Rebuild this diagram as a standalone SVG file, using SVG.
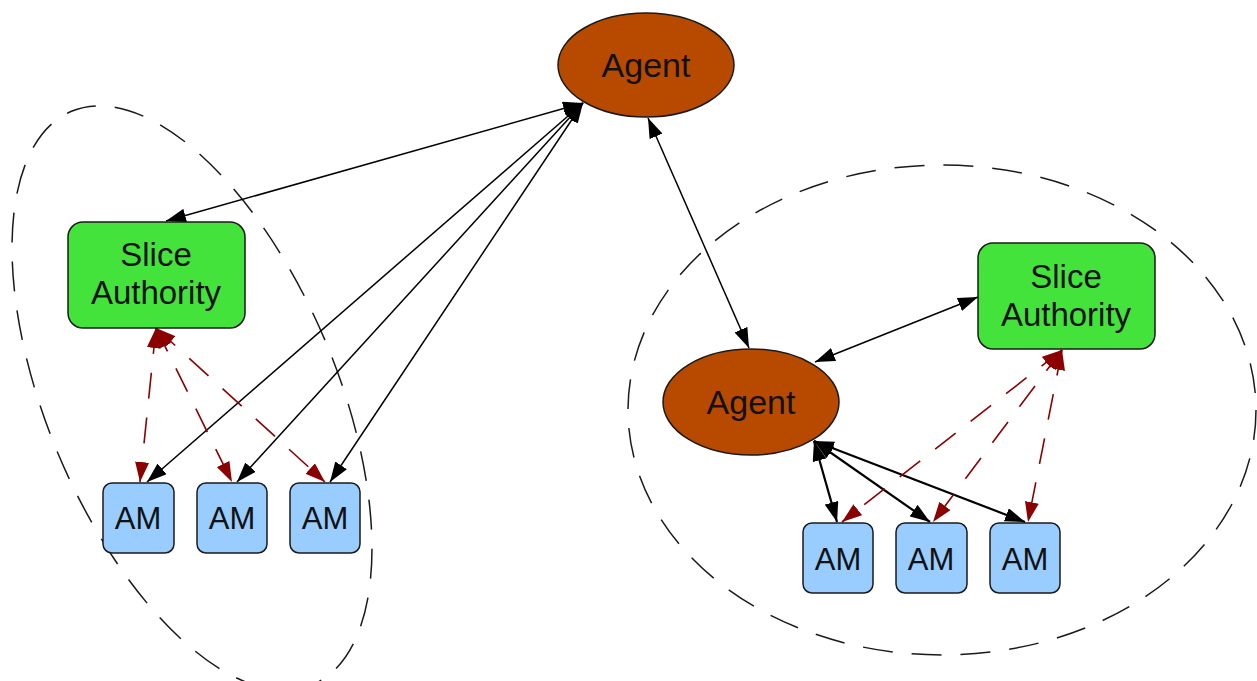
<svg xmlns="http://www.w3.org/2000/svg" width="1257" height="681" viewBox="0 0 1257 681">
<style>
.cl{fill:none;stroke:#1a1a1a;stroke-width:1.5;stroke-dasharray:30 19}
.e{fill:none;stroke:#000;stroke-width:1.5}
.et{fill:none;stroke:#000;stroke-width:2.2}
.r{fill:none;stroke:#8B0000;stroke-width:1.6;stroke-dasharray:26 19}
.agent{fill:#B84A00;stroke:#1a1a1a;stroke-width:1.5}
.sa{fill:#44E33C;stroke:#1a1a1a;stroke-width:1.5}
.am{fill:#99CCFF;stroke:#1a1a1a;stroke-width:1.5}
text{font-family:"Liberation Sans",Arial,sans-serif;font-size:31px;fill:#111;text-anchor:middle}
.big{font-size:34px}
.mid{font-size:33px}
</style>
<defs>
<marker id="ab" viewBox="0 0 20 14" refX="20" refY="7" markerWidth="20" markerHeight="14" markerUnits="userSpaceOnUse" orient="auto-start-reverse"><path d="M0,0 L20,7 L0,14 z" fill="#000"/></marker>
<marker id="ar" viewBox="0 0 20 14" refX="20" refY="7" markerWidth="20" markerHeight="14" markerUnits="userSpaceOnUse" orient="auto-start-reverse"><path d="M0,0 L20,7 L0,14 z" fill="#8B0000"/></marker>
</defs>
<rect width="1257" height="681" fill="#fff"/>
<g id="clusters">
<ellipse class="cl" cx="192" cy="398" rx="311" ry="145" transform="rotate(67.2 192 398)"/>
<ellipse class="cl" cx="942" cy="410" rx="314" ry="245"/>
</g>
<g id="connectors">
<line class="e" x1="583" y1="103" x2="166" y2="221" marker-start="url(#ab)" marker-end="url(#ab)"/>
<line class="e" x1="583" y1="103" x2="147" y2="482" marker-start="url(#ab)" marker-end="url(#ab)"/>
<line class="e" x1="583" y1="103" x2="237" y2="482" marker-start="url(#ab)" marker-end="url(#ab)"/>
<line class="e" x1="583" y1="103" x2="330" y2="482" marker-start="url(#ab)" marker-end="url(#ab)"/>
<line class="r" x1="156" y1="328" x2="140" y2="482" marker-start="url(#ar)" marker-end="url(#ar)"/>
<line class="r" x1="156" y1="328" x2="232" y2="482" marker-start="url(#ar)" marker-end="url(#ar)"/>
<line class="r" x1="156" y1="328" x2="325" y2="482" marker-start="url(#ar)" marker-end="url(#ar)"/>
<line class="e" x1="648" y1="118" x2="749" y2="348" marker-start="url(#ab)" marker-end="url(#ab)"/>
<line class="e" x1="815" y1="362" x2="978" y2="297" marker-start="url(#ab)" marker-end="url(#ab)"/>
<line class="et" x1="814" y1="441" x2="837" y2="522" marker-start="url(#ab)" marker-end="url(#ab)"/>
<line class="et" x1="814" y1="441" x2="930" y2="522" marker-start="url(#ab)" marker-end="url(#ab)"/>
<line class="et" x1="814" y1="441" x2="1025" y2="522" marker-start="url(#ab)" marker-end="url(#ab)"/>
<line class="r" x1="1062" y1="350" x2="842" y2="522" marker-start="url(#ar)" marker-end="url(#ar)"/>
<line class="r" x1="1062" y1="350" x2="933" y2="522" marker-start="url(#ar)" marker-end="url(#ar)"/>
<line class="r" x1="1062" y1="350" x2="1028" y2="522" marker-start="url(#ar)" marker-end="url(#ar)"/>
</g>
<g id="agent_top"><ellipse class="agent" cx="646" cy="65" rx="88" ry="52"/><text class="big" x="646" y="77">Agent</text></g>
<g id="sa_left"><rect class="sa" x="68" y="222" width="177" height="106" rx="15"/><text class="mid" x="156" y="266">Slice</text><text class="mid" x="156" y="304">Authority</text></g>
<g id="am_l1"><rect class="am" x="103" y="483" width="71" height="70" rx="9"/><text x="138" y="529">AM</text></g>
<g id="am_l2"><rect class="am" x="197" y="483" width="70" height="70" rx="9"/><text x="232" y="529">AM</text></g>
<g id="am_l3"><rect class="am" x="290" y="483" width="70" height="70" rx="9"/><text x="325" y="529">AM</text></g>
<g id="agent_right"><ellipse class="agent" cx="751" cy="402" rx="88" ry="53"/><text class="big" x="751" y="414">Agent</text></g>
<g id="sa_right"><rect class="sa" x="978" y="243" width="177" height="106" rx="15"/><text class="mid" x="1066" y="288">Slice</text><text class="mid" x="1066" y="326">Authority</text></g>
<g id="am_r1"><rect class="am" x="803" y="523" width="70" height="70" rx="9"/><text x="838" y="570">AM</text></g>
<g id="am_r2"><rect class="am" x="896" y="523" width="71" height="70" rx="9"/><text x="931" y="570">AM</text></g>
<g id="am_r3"><rect class="am" x="990" y="523" width="70" height="70" rx="9"/><text x="1025" y="570">AM</text></g>
</svg>
